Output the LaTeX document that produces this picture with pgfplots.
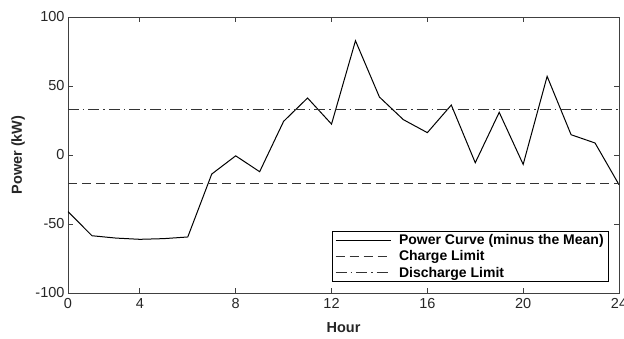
\documentclass[border=0pt]{standalone}
\usepackage{fontspec}
\setmainfont{Liberation Sans}
\usepackage{pgfplots}
\pgfplotsset{compat=1.18}
\definecolor{axgray}{gray}{0.25}
\definecolor{txtgray}{gray}{0.15}

\begin{document}
\begin{tikzpicture}
\begin{axis}[
  at={(0pt,0pt)}, anchor=south west,
  scale only axis,
  width=551pt, height=276pt,
  xmin=1, xmax=24, ymin=-100, ymax=100,
  xtick={1,4,8,12,16,20,24},
  xticklabels={0,4,8,12,16,20,24},
  ytick={-100,-50,0,50,100},
  yticklabels={-100,-50,0,50,100},
  tick align=inside,
  major tick length=5pt,
  axis line style={axgray, line width=0.8pt},
  tick style={axgray, line width=0.8pt},
  /pgf/number format/assume math mode=true,
  ticklabel style={font=\fontsize{14.5}{16}\selectfont, text=txtgray},
  xticklabel style={yshift=-2pt},
  label style={font=\fontsize{14.5}{16}\selectfont\bfseries, text=txtgray},
  xlabel={Hour},
  ylabel={Power (kW)},
  xlabel style={at={(axis description cs:0.5,-0.127)}, anchor=center},
  ylabel style={at={(axis description cs:-0.0907,0.5)}, anchor=center},
  legend cell align=left,
  legend style={
    at={(axis description cs:0.982,0.04)}, anchor=south east,
    draw=black, line width=0.8pt, fill=white,
    font=\fontsize{14}{14}\selectfont\bfseries,
    inner xsep=3pt, inner ysep=1pt, row sep=0.5pt,
    /tikz/every odd column/.append style={column sep=6pt},
  },
  legend image code/.code={%
    \draw[#1, line width=1pt] (0pt,0pt) -- (55pt,0pt);},
]
% power profile with the daily mean removed
\addplot[black, line width=1pt] coordinates {
  (1,-41) (2,-58.5) (3,-60.2) (4,-61.1) (5,-60.6) (6,-59.4)
  (7,-13.8) (8,-0.6) (9,-12.1) (10,24.4) (11,41.3) (12,22.4)
  (13,82.8) (14,42.0) (15,25.6) (16,16.2) (17,36.2) (18,-5.6)
  (19,30.9) (20,-6.8) (21,57.0) (22,14.7) (23,8.7) (24,-21.5)
};
\addlegendentry{Power Curve (minus the Mean)}
% battery limits
\addplot[black!80, line width=1pt, dash pattern=on 9pt off 5pt] coordinates {(1,-20.3) (24,-20.3)};
\addlegendentry{Charge Limit}
\addplot[black!80, line width=1pt, dash pattern=on 11pt off 4pt on 1.5pt off 4pt] coordinates {(1,33) (24,33)};
\addlegendentry{Discharge Limit}
\end{axis}
\pgfresetboundingbox
\path[use as bounding box] (-68pt,-45pt) rectangle (556pt,293pt);
\end{tikzpicture}
\end{document}
